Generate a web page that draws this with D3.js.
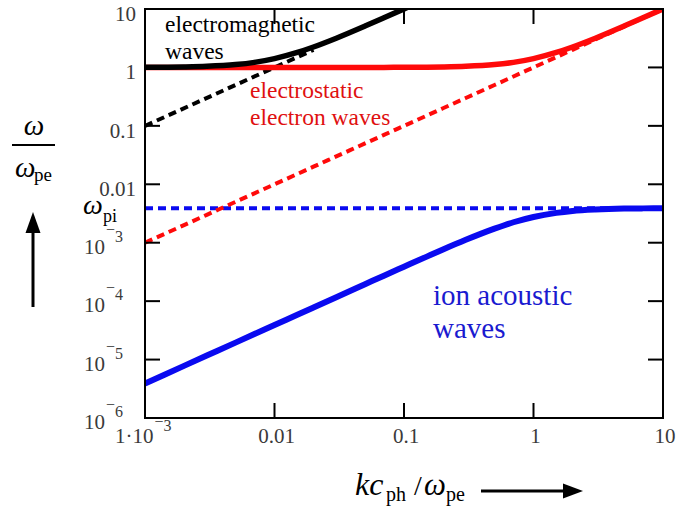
<!DOCTYPE html>
<html>
<head>
<meta charset="utf-8">
<script src="https://cdn.jsdelivr.net/npm/d3@7"></script>
<style>
  html, body { margin: 0; padding: 0; background: #fff; }
  svg { display: block; }
</style>
</head>
<body>
<svg id="chart" width="676" height="513"></svg>
<script>
// ---------------- data ----------------
const kValues = [0.001, 0.002, 0.003, 0.005, 0.007, 0.01, 0.015, 0.02, 0.03, 0.05, 0.07,
                 0.1, 0.15, 0.2, 0.3, 0.5, 0.7, 1, 1.5, 2, 3, 5, 7, 10];

// electrostatic electron waves (red solid)
const electrostatic = [1.0, 1.0, 1.0, 1.0, 1.0, 1.0, 1.0, 1.0, 1.0, 1.001, 1.002,
                       1.005, 1.011, 1.02, 1.044, 1.118, 1.221, 1.414, 1.803, 2.236, 3.162, 5.099, 7.071, 10.05];
// red dashed asymptote
const electrostaticAsym = [0.001, 0.002, 0.003, 0.005, 0.007, 0.01, 0.015, 0.02, 0.03, 0.05, 0.07,
                           0.1, 0.15, 0.2, 0.3, 0.5, 0.7, 1, 1.5, 2, 3, 5, 7, 10];

// electromagnetic waves (black solid)
const kEM = [0.001, 0.002, 0.003, 0.005, 0.007, 0.01, 0.015, 0.02, 0.03, 0.05, 0.07, 0.1, 0.12];
const electromagnetic = [1.005, 1.02, 1.044, 1.118, 1.221, 1.414, 1.803, 2.236, 3.162, 5.099, 7.071, 10.05, 12.04];
// black dashed asymptote
const kEMAsym = [0.001, 0.02];
const electromagneticAsym = [0.1, 2.0];

// ion acoustic waves (blue solid)
const ionAcoustic = [3.9e-6, 7.8e-6, 1.17e-5, 1.95e-5, 2.73e-5, 3.9e-5, 5.85e-5, 7.8e-5, 1.17e-4, 1.95e-4, 2.73e-4,
                     3.88e-4, 5.78e-4, 7.65e-4, 1.12e-3, 1.74e-3, 2.24e-3, 2.76e-3, 3.24e-3, 3.49e-3, 3.70e-3, 3.84e-3, 3.87e-3, 3.88e-3];
// omega_pi level (blue dashed)
const kPi = [0.001, 10];
const omegaPi = [0.0039, 0.0039];

// ticks
const xTickValues = [0.001, 0.01, 0.1, 1, 10];
const xTickLabels = [["1·10", "−3"], ["0.01"], ["0.1"], ["1"], ["10"]];
const yTickValues = [10, 1, 0.1, 0.01, 1e-3, 1e-4, 1e-5, 1e-6];
const yTickLabels = [["10"], ["1"], ["0.1"], ["0.01"], ["10", "−3"], ["10", "−4"], ["10", "−5"], ["10", "−6"]];

// ---------------- layout ----------------
const FONT = "Liberation Serif";
const svg = d3.select("#chart");
const L = 145, R = 663, T = 9, B = 418;
const x = d3.scaleLog().domain([1e-3, 10]).range([L, R]);
const y = d3.scaleLog().domain([1e-6, 10]).range([B, T]);

svg.append("defs").append("clipPath").attr("id", "plotclip")
  .append("rect").attr("x", L).attr("y", T).attr("width", R - L).attr("height", B - T);

const plot = svg.append("g").attr("clip-path", "url(#plotclip)");

const line = d3.line().x(d => x(d[0])).y(d => y(d[1])).curve(d3.curveMonotoneX);
const zip = (a, b) => a.map((v, i) => [v, b[i]]);

const RED = "#ff0a0a", BLUE = "#0a0af0", BLACK = "#000";

// dashed lines
plot.append("path").attr("d", line(zip(kPi, omegaPi)))
  .attr("fill", "none").attr("stroke", BLUE).attr("stroke-width", 4).attr("stroke-dasharray", "8,5");
plot.append("path").attr("d", line(zip(kValues, electrostaticAsym)))
  .attr("fill", "none").attr("stroke", RED).attr("stroke-width", 4).attr("stroke-dasharray", "8,5");
plot.append("path").attr("d", line(zip(kEMAsym, electromagneticAsym)))
  .attr("fill", "none").attr("stroke", BLACK).attr("stroke-width", 4).attr("stroke-dasharray", "8,5");

// solid lines
plot.append("path").attr("d", line(zip(kValues, electrostatic)))
  .attr("fill", "none").attr("stroke", RED).attr("stroke-width", 5.5);
plot.append("path").attr("d", line(zip(kEM, electromagnetic)))
  .attr("fill", "none").attr("stroke", BLACK).attr("stroke-width", 5.5);
plot.append("path").attr("d", line(zip(kValues, ionAcoustic)))
  .attr("fill", "none").attr("stroke", BLUE).attr("stroke-width", 6);

// frame
svg.append("rect").attr("x", L).attr("y", T).attr("width", R - L).attr("height", B - T)
  .attr("fill", "none").attr("stroke", "#000").attr("stroke-width", 2);

// ticks (inside, all four sides)
const tl = 15;
const ax = svg.append("g").attr("stroke", "#000").attr("stroke-width", 2);
ax.selectAll(".yl").data(yTickValues).join("line")
  .attr("x1", L).attr("x2", L + tl).attr("y1", d => y(d)).attr("y2", d => y(d));
ax.selectAll(".yr").data(yTickValues).join("line")
  .attr("x1", R).attr("x2", R - tl).attr("y1", d => y(d)).attr("y2", d => y(d));
ax.selectAll(".xb").data(xTickValues).join("line")
  .attr("y1", B).attr("y2", B - tl).attr("x1", d => x(d)).attr("x2", d => x(d));
ax.selectAll(".xt").data(xTickValues).join("line")
  .attr("y1", T).attr("y2", T + tl).attr("x1", d => x(d)).attr("x2", d => x(d));

const txt = (sel) => sel.append("text").style("font-family", FONT);

// y tick labels
const TICKC = "#3a3a3a";
yTickValues.forEach((v, i) => {
  const lab = yTickLabels[i];
  const ty = y(v);
  if (lab.length === 1) {
    txt(svg).attr("x", 136).attr("y", ty + 12).attr("text-anchor", "end")
      .attr("font-size", 21).attr("fill", TICKC).text(lab[0]);
  } else {
    const t = txt(svg).attr("x", 84).attr("y", ty + 11).attr("font-size", 21).attr("fill", TICKC);
    t.append("tspan").text(lab[0]);
    t.append("tspan").attr("font-size", 16).attr("dx", 1).attr("dy", -19).text(lab[1].charAt(0));
    t.append("tspan").attr("font-size", 16).attr("dy", 7).text(lab[1].slice(1));
  }
});

// x tick labels
xTickValues.forEach((v, i) => {
  const lab = xTickLabels[i];
  const tx = x(v);
  if (lab.length === 1) {
    txt(svg).attr("x", tx + 2).attr("y", 443).attr("text-anchor", "middle")
      .attr("font-size", 21).attr("fill", TICKC).text(lab[0]);
  } else {
    const t = txt(svg).attr("x", tx - 30).attr("y", 443).attr("font-size", 21).attr("fill", TICKC);
    t.append("tspan").text(lab[0]);
    t.append("tspan").attr("font-size", 16).attr("dx", 1).attr("dy", -16).text(lab[1].charAt(0));
    t.append("tspan").attr("font-size", 16).attr("dy", 3.5).text(lab[1].slice(1));
  }
});

// curve labels
const lab1 = txt(svg).attr("font-size", 23.5).attr("fill", "#000");
lab1.append("tspan").attr("x", 165).attr("y", 32).text("electromagnetic");
lab1.append("tspan").attr("x", 165).attr("y", 59).text("waves");
const lab2 = txt(svg).attr("font-size", 23.5).attr("fill", "#e01010");
lab2.append("tspan").attr("x", 250).attr("y", 98).text("electrostatic");
lab2.append("tspan").attr("x", 250).attr("y", 125).text("electron waves");
const lab3 = txt(svg).attr("font-size", 29).attr("fill", "#1a1ad0");
lab3.append("tspan").attr("x", 433).attr("y", 305).text("ion acoustic");
lab3.append("tspan").attr("x", 433).attr("y", 338).text("waves");

// omega_pi label
const wpi = txt(svg).attr("fill", "#000");
wpi.append("tspan").attr("x", 83).attr("y", 214).attr("font-size", 28).attr("font-style", "italic").text("ω");
wpi.append("tspan").attr("x", 103).attr("y", 222).attr("font-size", 18).text("pi");

// y-axis label: omega / omega_pe with arrow
txt(svg).attr("x", 34).attr("y", 135).attr("text-anchor", "middle")
  .attr("font-size", 29).attr("font-style", "italic").text("ω");
svg.append("line").attr("x1", 12).attr("x2", 55).attr("y1", 145).attr("y2", 145)
  .attr("stroke", "#000").attr("stroke-width", 2);
const den = txt(svg).attr("fill", "#000");
den.append("tspan").attr("x", 15).attr("y", 177).attr("font-size", 29).attr("font-style", "italic").text("ω");
den.append("tspan").attr("x", 34).attr("y", 181).attr("font-size", 19).text("pe");
svg.append("line").attr("x1", 33).attr("x2", 33).attr("y1", 230).attr("y2", 307)
  .attr("stroke", "#000").attr("stroke-width", 3);
svg.append("path").attr("d", "M33,212 L25.5,233 L40.5,233 Z").attr("fill", "#000");

// x-axis label with arrow
const xl = txt(svg).attr("fill", "#000");
xl.append("tspan").attr("x", 355).attr("y", 495).attr("font-size", 32).attr("font-style", "italic").text("kc");
xl.append("tspan").attr("x", 386).attr("y", 501).attr("font-size", 20).text("ph");
xl.append("tspan").attr("x", 414).attr("y", 495).attr("font-size", 28).text("/");
xl.append("tspan").attr("x", 424).attr("y", 495).attr("font-size", 31).attr("font-style", "italic").text("ω");
xl.append("tspan").attr("x", 446).attr("y", 501).attr("font-size", 20).text("pe");
svg.append("line").attr("x1", 481).attr("x2", 566).attr("y1", 491).attr("y2", 491)
  .attr("stroke", "#000").attr("stroke-width", 3);
svg.append("path").attr("d", "M583,491 L563,483.5 L563,498.5 Z").attr("fill", "#000");
</script>
</body>
</html>
